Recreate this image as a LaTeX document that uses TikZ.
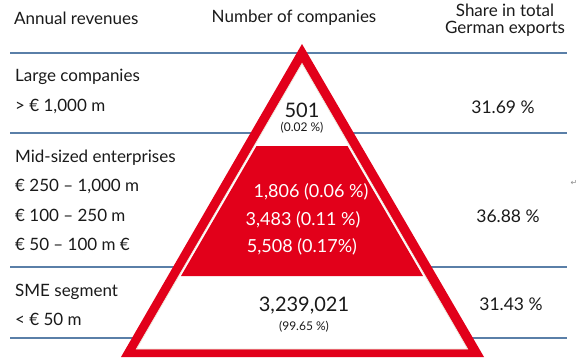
\documentclass[tikz,border=0pt]{standalone}
\usepackage{fontspec}
\setmainfont{Lato}
\newfontfamily\symfont{DejaVu Sans}
\definecolor{pyrred}{HTML}{E2001A}
\definecolor{rulebl}{HTML}{5A7FA8}
\definecolor{txt}{HTML}{1A1A1A}
\definecolor{shade}{HTML}{EDE6DA}
\begin{document}
\begin{tikzpicture}[x=1pt,y=-1pt,
  lbl/.style={anchor=west,inner sep=0pt,font=\fontsize{17}{19}\selectfont,text=txt},
  hdr/.style={inner sep=0pt,font=\fontsize{17}{18}\selectfont,text=txt,align=center},
  val/.style={inner sep=0pt,font=\fontsize{17.5}{19}\selectfont,text=txt},
  bignum/.style={inner sep=0pt,font=\fontsize{20}{22}\selectfont,text=txt},
  smallpct/.style={inner sep=0pt,font=\fontsize{12}{14}\selectfont,text=txt},
  wnum/.style={inner sep=0pt,font=\fontsize{18}{20}\selectfont,text=white},
  rulestyle/.style={draw=rulebl,line width=1.2pt}]
\useasboundingbox (0,0) rectangle (587,364);
\fill[white] (0,0) rectangle (587,364);
% horizontal rules
\coordinate (r1l) at (10,53);  \coordinate (r1r) at (567,53);
\coordinate (r2l) at (10,133); \coordinate (r2r) at (567,133);
\coordinate (r3l) at (10,267); \coordinate (r3r) at (567,267);
\coordinate (r4l) at (10,338); \coordinate (r4r) at (567,338);
\draw[rulestyle] (r1l) -- (r1r);
\draw[rulestyle] (r2l) -- (r2r);
\draw[rulestyle] (r3l) -- (r3r);
\draw[rulestyle] (r4l) -- (r4r);
% pyramid
\coordinate (apex) at (302,44);
\coordinate (bl) at (121,357);
\coordinate (br) at (484,357);
\fill[pyrred] (apex) -- (br) -- (bl) -- cycle;
\fill[white,draw=shade,line width=0.8pt] (302,63.5) -- (467.6,349) -- (136.4,349) -- cycle;
\fill[pyrred] (256.5,146) -- (347.5,146) -- (423,276) -- (181,276) -- cycle;
% headers
\node[hdr,anchor=west] (h1) at (14,18) {Annual revenues};
\node[hdr] (h2) at (294,18) {Number of companies};
\node[hdr] (h3a) at (505,10) {Share in total};
\node[hdr] (h3b) at (505,29) {German exports};
% left labels
\node[lbl] (l1) at (15,77) {Large companies};
\node[lbl] (l2) at (15,106) {> € 1,000 m};
\node[lbl] (l3) at (15,158) {Mid-sized enterprises};
\node[lbl] (l4) at (15,186) {€ 250 – 1,000 m};
\node[lbl] (l5) at (15,215) {€ 100 – 250 m};
\node[lbl] (l6) at (15,244) {€ 50 – 100 m €};
\node[lbl] (l7) at (15,292) {SME segment};
\node[lbl] (l8) at (15,319) {< € 50 m};
% centre values
\node[bignum] (c1) at (302,110) {501};
\node[smallpct] (c1p) at (302,128) {(0.02 \%)};
\node[wnum] (c2) at (311,192) {1,806 (0.06 \%)};
\node[wnum] (c3) at (303,220) {3,483 (0.11 \%)};
\node[wnum] (c4) at (302,247) {5,508 (0.17\%)};
\node[bignum] (c5) at (304,306) {3,239,021};
\node[smallpct] (c5p) at (304,327) {(99.65 \%)};
% right values
\node[val] (v1) at (503,107) {31.69 \%};
\node[val] (v2) at (508,216) {36.88 \%};
\node[val] (v3) at (511,304) {31.43 \%};
\node[inner sep=0pt,font=\symfont\fontsize{8}{8}\selectfont,text=black!45] (pm) at (574,183) {↵};
\end{tikzpicture}
\end{document}
